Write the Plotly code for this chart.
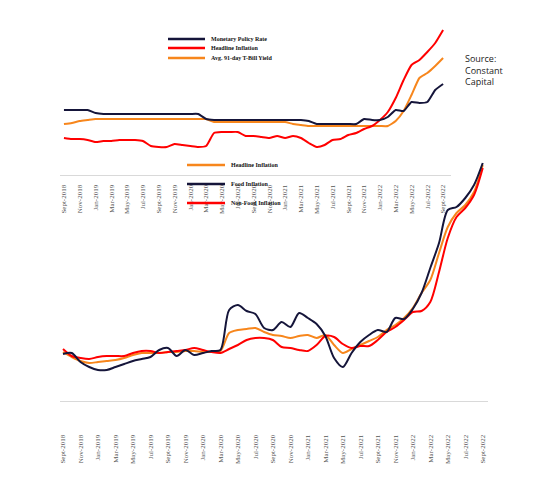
import plotly.graph_objects as go

W, H = 544, 496
OFF = 8  # page body margin
mn = ["Jan","Feb","Mar","Apr","May","Jun","Jul","Aug","Sept","Oct","Nov","Dec"]
labels = []
for k in range(49):
    m = (8 + k) % 12
    y = 2018 + (8 + k) // 12
    labels.append(f"{mn[m]}-{y}")
tick_idx = list(range(0, 49, 2))
tick_text = [labels[i] for i in tick_idx]

# Top panel (height above axis, chart units)
mpr_y = [110,110,110,110,113,114,114,114,114,114,114,114,114,114,114,114,114,114,119,120,120,120,120,120,120,120,120,120,120,120,120,121,124,124,124,124,124,124,119,120,120,117,110,111,102,103,102,90,84]
head_y = [138,139,139,140,142,141,141,140,140,140,141,146,147,147,144,145,146,147,146,133,132,132,132,136,136,137,138,136,138,136,138,143,147,145,140,139,135,133,129,126,120,112,98,80,65,60,52,43,30]
tbill_y = [124,123,121,120,119,119,119,119,119,119,119,119,119,119,119,119,119,119,119,122,122,122,122,122,122,122,122,122,122,124,125,126,126,126,126,126,126,126,126,126,126,126,121,111,95,78,73,66,58]
mpr = [175 - v for v in mpr_y]
head = [175 - v for v in head_y]
tbill = [175 - v for v in tbill_y]

# Bottom panel
food_y = [354,353,362,367,370,370,367,364,361,359,357,350,348,356,350,355,353,351,350,310,305,311,314,328,330,322,327,313,318,324,336,358,367,353,342,335,330,332,318,319,309,293,268,243,210,207,198,185,163]
headb_y = [352,357,361,363,362,361,360,358,355,353,353,353,352,352,351,351,352,352,351,333,330,329,328,332,335,336,338,336,335,338,335,345,353,349,345,341,337,330,325,318,308,293,280,253,227,213,205,192,165]
nonfood_y = [349,356,358,359,357,356,356,356,353,351,351,353,352,351,350,348,350,352,353,349,345,340,338,338,340,347,348,350,351,345,336,337,344,348,346,346,340,332,327,320,312,311,302,272,238,217,208,195,168]
food = [401 - v for v in food_y]
headb = [401 - v for v in headb_y]
nonfood = [401 - v for v in nonfood_y]

x = list(range(49))
NAVY, RED, ORANGE = "#15153a", "#ff0000", "#f7861c"

fig = go.Figure()
for ys, c in [(tbill, ORANGE), (head, RED), (mpr, NAVY)]:
    fig.add_trace(go.Scatter(x=x, y=ys, mode="lines", line=dict(color=c, width=2, shape="spline", smoothing=0.5),
                             xaxis="x", yaxis="y", showlegend=False, hoverinfo="skip"))
for ys, c in [(headb, ORANGE), (nonfood, RED), (food, NAVY)]:
    fig.add_trace(go.Scatter(x=x, y=ys, mode="lines", line=dict(color=c, width=2, shape="spline", smoothing=0.8),
                             xaxis="x2", yaxis="y2", showlegend=False, hoverinfo="skip"))

def px(v): return (v - OFF) / W
def py(v): return (H - (v - OFF)) / H

tickfont = dict(family="Liberation Serif", size=7, color="#555")
fig.update_layout(
    width=W, height=H, autosize=False, margin=dict(l=0, r=0, t=0, b=0),
    paper_bgcolor="white", plot_bgcolor="rgba(0,0,0,0)",
    xaxis=dict(domain=[px(60), px(451)], range=[-0.5, 49], anchor="y", tickmode="array",
               tickvals=tick_idx, ticktext=tick_text, tickangle=-90, tickfont=tickfont,
               showgrid=False, zeroline=False, showline=True, linecolor="#d9d9d9",
               ticks="outside", ticklen=6, tickcolor="rgba(0,0,0,0)", layer="above traces"),
    yaxis=dict(domain=[py(175), py(25)], range=[0, 150], visible=False),
    xaxis2=dict(domain=[px(59.5), px(488)], range=[-0.4, 48.6], anchor="y2", tickmode="array",
                tickvals=tick_idx, ticktext=tick_text, tickangle=-90, tickfont=tickfont,
                showgrid=False, zeroline=False, showline=True, linecolor="#d9d9d9",
                ticks="outside", ticklen=30, tickcolor="rgba(0,0,0,0)"),
    yaxis2=dict(domain=[py(401), py(160)], range=[0, 241], visible=False),
)

def legend_item(x0, x1, y, color, text):
    fig.add_shape(type="line", xref="paper", yref="paper", x0=px(x0), x1=px(x1), y0=py(y), y1=py(y),
                  line=dict(color=color, width=2.5))
    fig.add_annotation(xref="paper", yref="paper", x=px(x1 + 4), y=py(y), text=text, showarrow=False,
                       xanchor="left", yanchor="middle", font=dict(family="Liberation Serif", size=6, color="#111"))

legend_item(168, 205, 39, NAVY, "<b>Monetary Policy Rate</b>")
legend_item(168, 205, 48, RED, "<b>Headline Inflation</b>")
legend_item(168, 205, 58, ORANGE, "<b>Avg. 91-day T-Bill Yield</b>")
legend_item(187, 225, 165, ORANGE, "<b>Headline Inflation</b>")
legend_item(187, 225, 184, NAVY, "<b>Food Inflation</b>")
legend_item(187, 225, 203, RED, "<b>Non-Food Inflation</b>")

fig.add_annotation(xref="paper", yref="paper", x=px(463), y=py(50), text="Source:<br>Constant<br>Capital",
                   showarrow=False, xanchor="left", yanchor="top", align="left",
                   font=dict(family="Open Sans", size=9, color="#222"))

fig.write_html("out.html")
